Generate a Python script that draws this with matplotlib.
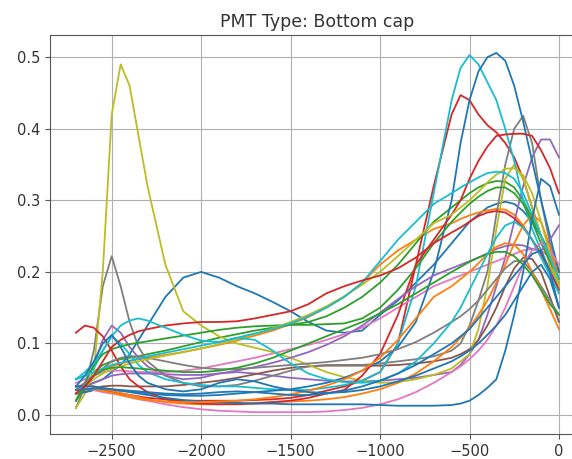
import matplotlib
matplotlib.use("Agg")
import matplotlib.pyplot as plt

# shared x positions
x_vals = [-2700, -2650, -2600, -2550, -2500, -2450, -2400, -2350, -2300,
          -2200, -2100, -2000, -1900, -1800, -1700, -1600, -1500, -1400, -1300,
          -1200, -1100, -1000, -900, -800, -700,
          -600, -550, -500, -450, -400, -350, -300, -250, -200, -150, -100, -50, 0]

olive_peak = [0.010, 0.030, 0.060, 0.200, 0.420, 0.490, 0.460, 0.390, 0.320,
              0.210, 0.145, 0.125, 0.110, 0.100, 0.094, 0.088, 0.080, 0.070, 0.060, 0.053, 0.048, 0.045, 0.046, 0.050, 0.056,
              0.065, 0.075, 0.085, 0.120, 0.180, 0.260, 0.330, 0.350, 0.330, 0.290, 0.250, 0.210, 0.180]
gray_peak = [0.010, 0.040, 0.090, 0.180, 0.222, 0.180, 0.130, 0.095, 0.075,
             0.055, 0.045, 0.040, 0.040, 0.042, 0.048, 0.055, 0.062, 0.068, 0.070, 0.070, 0.070, 0.072, 0.075, 0.078, 0.082,
             0.090, 0.100, 0.125, 0.160, 0.200, 0.280, 0.350, 0.400, 0.418, 0.380, 0.300, 0.240, 0.200]
blue_hump = [0.040, 0.040, 0.045, 0.050, 0.060, 0.070, 0.085, 0.105, 0.125,
             0.165, 0.192, 0.200, 0.192, 0.180, 0.170, 0.158, 0.145, 0.130, 0.118, 0.115, 0.118, 0.140, 0.160, 0.185, 0.210,
             0.240, 0.255, 0.270, 0.280, 0.290, 0.295, 0.298, 0.295, 0.285, 0.270, 0.250, 0.225, 0.200]
blue_big = [0.030, 0.032, 0.035, 0.035, 0.035, 0.034, 0.033, 0.032, 0.030,
            0.028, 0.027, 0.027, 0.028, 0.030, 0.032, 0.034, 0.036, 0.040, 0.045, 0.052, 0.062, 0.075, 0.095, 0.130, 0.200,
            0.300, 0.380, 0.440, 0.480, 0.500, 0.506, 0.495, 0.460, 0.410, 0.355, 0.300, 0.250, 0.200]
cyan_peak = [0.050, 0.055, 0.065, 0.090, 0.110, 0.100, 0.085, 0.070, 0.060,
             0.050, 0.045, 0.042, 0.040, 0.040, 0.038, 0.036, 0.035, 0.035, 0.038, 0.042, 0.048, 0.060, 0.100, 0.180, 0.310,
             0.440, 0.485, 0.503, 0.490, 0.465, 0.440, 0.400, 0.355, 0.300, 0.260, 0.230, 0.200, 0.180]
red_peak = [0.030, 0.032, 0.035, 0.035, 0.033, 0.030, 0.028, 0.026, 0.024,
            0.022, 0.020, 0.020, 0.020, 0.020, 0.021, 0.022, 0.024, 0.028, 0.034, 0.040, 0.048, 0.060, 0.100, 0.210, 0.320,
            0.420, 0.447, 0.440, 0.420, 0.405, 0.395, 0.380, 0.360, 0.330, 0.290, 0.250, 0.210, 0.180]
red_hi = [0.115, 0.125, 0.122, 0.110, 0.090, 0.068, 0.050, 0.040, 0.032,
          0.022, 0.018, 0.016, 0.015, 0.015, 0.016, 0.018, 0.020, 0.024, 0.030, 0.035, 0.055, 0.085, 0.140, 0.210, 0.245,
          0.280, 0.300, 0.330, 0.355, 0.375, 0.390, 0.392, 0.393, 0.393, 0.390, 0.370, 0.345, 0.310]
red_mid = [0.030, 0.040, 0.055, 0.075, 0.095, 0.105, 0.112, 0.117, 0.120,
           0.125, 0.128, 0.130, 0.130, 0.131, 0.135, 0.140, 0.145, 0.155, 0.170, 0.180, 0.188, 0.195, 0.205, 0.220, 0.240,
           0.255, 0.262, 0.270, 0.278, 0.283, 0.285, 0.283, 0.275, 0.262, 0.245, 0.225, 0.200, 0.175]
purple_end = [0.030, 0.045, 0.070, 0.105, 0.125, 0.115, 0.095, 0.080, 0.068,
              0.055, 0.050, 0.052, 0.058, 0.060, 0.058, 0.055, 0.052, 0.050, 0.048, 0.047, 0.047, 0.048, 0.050, 0.052, 0.056,
              0.060, 0.070, 0.085, 0.105, 0.140, 0.180, 0.220, 0.270, 0.320, 0.360, 0.385, 0.385, 0.360]
blue_late = [0.040, 0.040, 0.040, 0.038, 0.036, 0.034, 0.032, 0.030, 0.028,
             0.024, 0.021, 0.019, 0.018, 0.017, 0.016, 0.016, 0.015, 0.015, 0.015, 0.015, 0.015, 0.014, 0.013, 0.013, 0.013,
             0.014, 0.016, 0.020, 0.028, 0.038, 0.050, 0.090, 0.140, 0.200, 0.275, 0.330, 0.320, 0.280]
blue_end = [0.035, 0.036, 0.037, 0.037, 0.036, 0.035, 0.034, 0.033, 0.032,
            0.030, 0.029, 0.030, 0.032, 0.033, 0.032, 0.030, 0.028, 0.028, 0.030, 0.034, 0.040, 0.048, 0.058, 0.070, 0.085,
            0.100, 0.110, 0.120, 0.135, 0.150, 0.165, 0.180, 0.195, 0.210, 0.225, 0.230, 0.200, 0.150]
teal_wide = [0.050, 0.055, 0.060, 0.065, 0.070, 0.073, 0.076, 0.079, 0.082,
             0.087, 0.092, 0.097, 0.102, 0.108, 0.114, 0.120, 0.128, 0.138, 0.150, 0.165, 0.185, 0.215, 0.245, 0.270, 0.295,
             0.310, 0.318, 0.325, 0.332, 0.338, 0.340, 0.338, 0.330, 0.310, 0.280, 0.250, 0.220, 0.190]
green_peak = [0.020, 0.040, 0.060, 0.070, 0.075, 0.078, 0.080, 0.082, 0.085,
              0.090, 0.096, 0.102, 0.108, 0.113, 0.118, 0.122, 0.126, 0.130, 0.138, 0.150, 0.165, 0.185, 0.210, 0.240, 0.270,
              0.290, 0.300, 0.310, 0.318, 0.324, 0.327, 0.326, 0.318, 0.300, 0.275, 0.250, 0.225, 0.200]
green_hi = [0.020, 0.045, 0.070, 0.085, 0.092, 0.096, 0.099, 0.101, 0.103,
            0.107, 0.111, 0.115, 0.119, 0.122, 0.124, 0.125, 0.126, 0.126, 0.127, 0.128, 0.135, 0.150, 0.175, 0.205, 0.240,
            0.270, 0.283, 0.295, 0.305, 0.313, 0.318, 0.318, 0.310, 0.295, 0.270, 0.240, 0.215, 0.190]
green_lo = [0.020, 0.040, 0.055, 0.063, 0.066, 0.067, 0.066, 0.065, 0.064,
            0.062, 0.060, 0.060, 0.062, 0.066, 0.072, 0.080, 0.090, 0.100, 0.110, 0.120, 0.130, 0.142, 0.155, 0.170, 0.185,
            0.200, 0.207, 0.214, 0.220, 0.225, 0.228, 0.228, 0.222, 0.210, 0.195, 0.175, 0.155, 0.140]
orange_hi = [0.035, 0.045, 0.055, 0.062, 0.068, 0.072, 0.075, 0.078, 0.080,
             0.084, 0.088, 0.093, 0.098, 0.104, 0.111, 0.118, 0.127, 0.137, 0.150, 0.165, 0.185, 0.210, 0.230, 0.245, 0.260,
             0.268, 0.274, 0.279, 0.283, 0.286, 0.288, 0.287, 0.280, 0.265, 0.245, 0.225, 0.205, 0.185]
orange_late = [0.040, 0.042, 0.040, 0.037, 0.034, 0.031, 0.028, 0.025, 0.022,
               0.018, 0.016, 0.015, 0.015, 0.016, 0.017, 0.018, 0.019, 0.020, 0.022, 0.025, 0.030, 0.036, 0.045, 0.058, 0.075,
               0.095, 0.108, 0.122, 0.140, 0.160, 0.185, 0.210, 0.240, 0.265, 0.280, 0.270, 0.235, 0.190]
orange_mid = [0.035, 0.037, 0.036, 0.034, 0.031, 0.028, 0.025, 0.023, 0.021,
              0.019, 0.018, 0.018, 0.019, 0.020, 0.022, 0.025, 0.029, 0.034, 0.041, 0.050, 0.062, 0.080, 0.105, 0.135, 0.165,
              0.180, 0.190, 0.200, 0.212, 0.225, 0.235, 0.240, 0.238, 0.225, 0.200, 0.175, 0.148, 0.120]
brown_line = [0.030, 0.035, 0.038, 0.040, 0.041, 0.041, 0.040, 0.040, 0.040,
              0.040, 0.042, 0.045, 0.048, 0.052, 0.057, 0.062, 0.066, 0.068, 0.069, 0.069, 0.069, 0.069, 0.070, 0.072, 0.075,
              0.080, 0.085, 0.092, 0.105, 0.125, 0.150, 0.180, 0.205, 0.220, 0.218, 0.200, 0.165, 0.130]
pink_lo = [0.040, 0.038, 0.035, 0.032, 0.030, 0.028, 0.025, 0.022, 0.020,
           0.015, 0.011, 0.008, 0.006, 0.005, 0.004, 0.004, 0.004, 0.004, 0.005, 0.007, 0.010, 0.015, 0.022, 0.032, 0.045,
           0.060, 0.068, 0.078, 0.090, 0.105, 0.125, 0.150, 0.180, 0.210, 0.230, 0.240, 0.230, 0.210]
pink_mid = [0.045, 0.050, 0.055, 0.060, 0.062, 0.062, 0.061, 0.060, 0.060,
            0.060, 0.062, 0.065, 0.070, 0.075, 0.080, 0.086, 0.092, 0.098, 0.105, 0.113, 0.122, 0.135, 0.150, 0.165, 0.180,
            0.190, 0.195, 0.200, 0.205, 0.210, 0.215, 0.220, 0.225, 0.230, 0.232, 0.230, 0.220, 0.200]
cyan_hump = [0.050, 0.060, 0.072, 0.090, 0.110, 0.125, 0.132, 0.135, 0.132,
             0.122, 0.112, 0.104, 0.102, 0.108, 0.105, 0.090, 0.072, 0.058, 0.050, 0.046, 0.045, 0.048, 0.058, 0.075, 0.100,
             0.130, 0.150, 0.175, 0.200, 0.225, 0.248, 0.265, 0.270, 0.262, 0.245, 0.220, 0.195, 0.170]
blue_spike = [0.040, 0.055, 0.075, 0.100, 0.112, 0.095, 0.072, 0.055, 0.045,
              0.036, 0.033, 0.036, 0.045, 0.050, 0.047, 0.040, 0.035, 0.032, 0.031, 0.032, 0.035, 0.040, 0.047, 0.055, 0.065,
              0.075, 0.082, 0.090, 0.100, 0.112, 0.125, 0.140, 0.160, 0.180, 0.200, 0.210, 0.190, 0.150]
purple_mid = [0.040, 0.042, 0.045, 0.050, 0.055, 0.057, 0.058, 0.058, 0.058,
              0.057, 0.056, 0.056, 0.058, 0.062, 0.067, 0.073, 0.080, 0.088, 0.098, 0.110, 0.125, 0.143, 0.162, 0.180, 0.195,
              0.205, 0.210, 0.215, 0.220, 0.226, 0.232, 0.236, 0.238, 0.237, 0.232, 0.230, 0.245, 0.265]
olive_mid = [0.030, 0.040, 0.050, 0.058, 0.064, 0.068, 0.072, 0.075, 0.078,
             0.083, 0.088, 0.093, 0.099, 0.106, 0.113, 0.121, 0.130, 0.140, 0.152, 0.166, 0.182, 0.200, 0.222, 0.245, 0.268,
             0.280, 0.290, 0.300, 0.312, 0.325, 0.336, 0.344, 0.345, 0.335, 0.310, 0.270, 0.225, 0.180]
gray_mid = [0.035, 0.045, 0.055, 0.065, 0.075, 0.080, 0.082, 0.082, 0.080,
            0.075, 0.070, 0.066, 0.064, 0.064, 0.066, 0.068, 0.070, 0.072, 0.074, 0.077, 0.080, 0.085, 0.092, 0.102, 0.115,
            0.130, 0.138, 0.148, 0.160, 0.175, 0.190, 0.205, 0.215, 0.215, 0.200, 0.180, 0.160, 0.140]

series = [
    (blue_hump, "tab:blue"), (orange_hi, "tab:orange"), (green_peak, "tab:green"),
    (red_peak, "tab:red"), (purple_end, "tab:purple"), (brown_line, "tab:brown"),
    (pink_mid, "tab:pink"), (gray_peak, "tab:gray"), (olive_peak, "tab:olive"),
    (cyan_peak, "tab:cyan"), (blue_big, "tab:blue"), (orange_late, "tab:orange"),
    (green_hi, "tab:green"), (red_hi, "tab:red"), (purple_mid, "tab:purple"),
    (pink_lo, "tab:pink"), (gray_mid, "tab:gray"), (olive_mid, "tab:olive"),
    (teal_wide, "tab:cyan"), (blue_late, "tab:blue"), (orange_mid, "tab:orange"),
    (green_lo, "tab:green"), (red_mid, "tab:red"), (cyan_hump, "tab:cyan"),
    (blue_spike, "tab:blue"), (blue_end, "tab:blue"),
]

x_ticks = [-2500, -2000, -1500, -1000, -500, 0]
y_ticks = [0.0, 0.1, 0.2, 0.3, 0.4, 0.5]

fig = plt.figure(figsize=(5.72, 4.59), dpi=100)
ax = fig.add_axes([50 / 572, (459 - 434) / 459, (584 - 50) / 572, (434 - 35) / 459])
for ys, c in series:
    ax.plot(x_vals, ys, color=c, lw=1.3)

ax.set_xlim(-2845, 140)
ax.set_ylim(-0.0265, 0.531)
ax.set_xticks(x_ticks)
ax.set_yticks(y_ticks)
ax.tick_params(labelsize=10.5, labelcolor="#333333", color="#555555")
for sp in ax.spines.values():
    sp.set_color("#555555")
ax.grid(True, color="#b0b0b0", lw=0.8)
ax.set_title("PMT Type: Bottom cap", fontsize=12.5, color="#333333")
fig.savefig("out.png", dpi=100)
